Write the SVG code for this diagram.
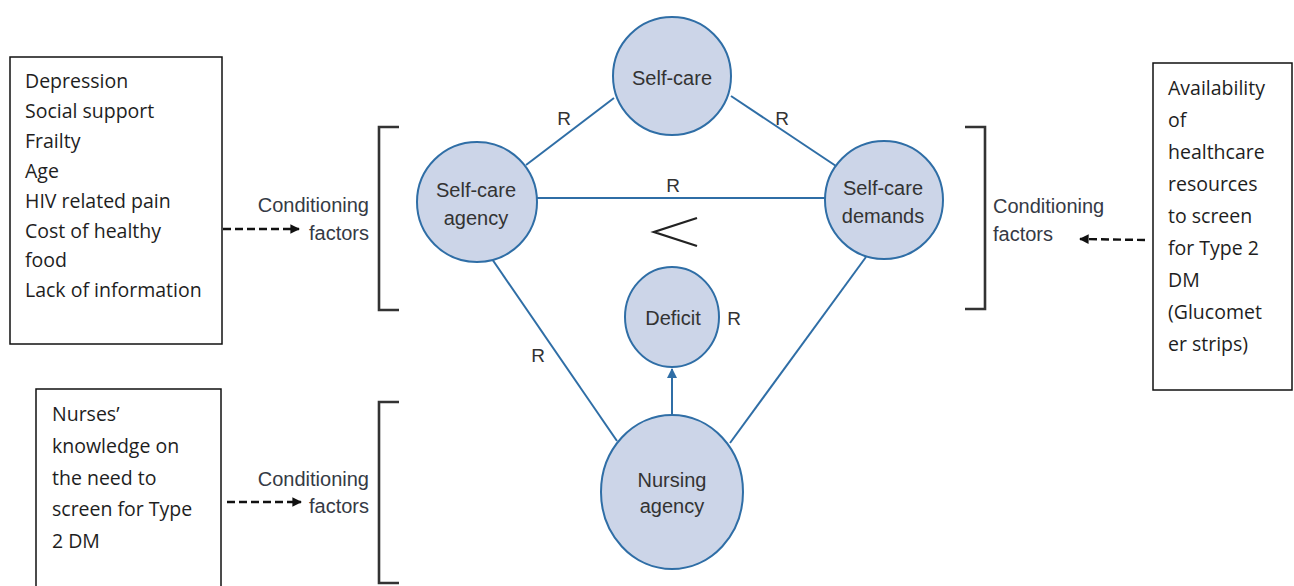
<svg xmlns="http://www.w3.org/2000/svg" width="1294" height="586" viewBox="0 0 1294 586">
  <style>
    .node { fill: #ccd5e8; stroke: #2f6ea6; stroke-width: 2; }
    .link { stroke: #2f6ea6; stroke-width: 2; fill: none; }
    .lbl { font-family: "Liberation Sans", Arial, sans-serif; font-size: 20px; fill: #333; text-anchor: middle; }
    .r { font-family: "Liberation Sans", Arial, sans-serif; font-size: 19px; fill: #333; text-anchor: middle; }
    .cond { font-family: "Liberation Sans", Arial, sans-serif; font-size: 20px; fill: #353a45; }
    .box { fill: #fff; stroke: #111; stroke-width: 1.5; }
    .boxtxt { font-family: "Open Sans", "Noto Sans", sans-serif; font-size: 19.5px; fill: #1e1e1e; }
    .bracket { fill: none; stroke: #333; stroke-width: 2.6; }
    .dash { stroke: #111; stroke-width: 2.4; stroke-dasharray: 8 4; fill: none; }
  </style>
  <defs>
    <marker id="blueHead" viewBox="0 0 10 10" refX="9" refY="5" markerWidth="5" markerHeight="6" orient="auto" markerUnits="strokeWidth">
      <path d="M0,0 L10,5 L0,10 z" fill="#2f6ea6"/>
    </marker>
    <marker id="blackHead" viewBox="0 0 10 10" refX="9" refY="5" markerWidth="4.6" markerHeight="4" orient="auto" markerUnits="strokeWidth">
      <path d="M0,0 L10,5 L0,10 z" fill="#111"/>
    </marker>
  </defs>

  <rect width="1294" height="586" fill="#fff"/>

  <!-- connectors between the theory nodes -->
  <g id="connectors">
    <line class="link" x1="614" y1="98" x2="526" y2="165"/>
    <line class="link" x1="731" y1="96" x2="836" y2="166"/>
    <line class="link" x1="537" y1="198" x2="825" y2="198"/>
    <line class="link" x1="492" y1="259" x2="617" y2="441"/>
    <line class="link" x1="866" y1="257" x2="730" y2="443"/>
    <line class="link" x1="672" y1="415" x2="672" y2="369" marker-end="url(#blueHead)"/>
    <!-- dashed arrows from the factor boxes -->
    <line class="dash" x1="223" y1="229" x2="299" y2="229" marker-end="url(#blackHead)"/>
    <line class="dash" x1="1145" y1="240" x2="1080" y2="239" marker-end="url(#blackHead)"/>
    <line class="dash" x1="227" y1="502" x2="301" y2="502" marker-end="url(#blackHead)"/>
    <!-- relation labels -->
    <text class="r" x="564" y="125">R</text>
    <text class="r" x="782" y="125">R</text>
    <text class="r" x="673" y="192">R</text>
    <text class="r" x="538" y="362">R</text>
    <text class="r" x="734" y="325">R</text>
    <!-- "less than" mark between agency and demands -->
    <polyline points="697,218 654,232 697,246" fill="none" stroke="#222" stroke-width="2.3"/>
  </g>

  <g id="self-care">
    <circle class="node" cx="672" cy="76" r="59"/>
    <text class="lbl" x="672" y="85">Self-care</text>
  </g>
  <g id="self-care-agency">
    <circle class="node" cx="477" cy="202" r="60"/>
    <text class="lbl" x="476" y="197">Self-care</text>
    <text class="lbl" x="476" y="225">agency</text>
  </g>
  <g id="self-care-demands">
    <circle class="node" cx="884" cy="200" r="59"/>
    <text class="lbl" x="883" y="195">Self-care</text>
    <text class="lbl" x="883" y="223">demands</text>
  </g>
  <g id="deficit">
    <ellipse class="node" cx="672" cy="317" rx="47" ry="50"/>
    <text class="lbl" x="673" y="325">Deficit</text>
  </g>
  <g id="nursing-agency">
    <ellipse class="node" cx="672" cy="492" rx="71" ry="77"/>
    <text class="lbl" x="672" y="487">Nursing</text>
    <text class="lbl" x="672" y="513">agency</text>
  </g>

  <!-- brackets with conditioning factor labels -->
  <g id="bracket-left-top">
    <polyline class="bracket" points="399,127 379,127 379,310 399,310"/>
    <text class="cond" x="369" y="212" text-anchor="end">Conditioning</text>
    <text class="cond" x="369" y="240" text-anchor="end">factors</text>
  </g>
  <g id="bracket-right">
    <polyline class="bracket" points="965,127 985,127 985,309 965,309"/>
    <text class="cond" x="993" y="213">Conditioning</text>
    <text class="cond" x="993" y="241">factors</text>
  </g>
  <g id="bracket-left-bottom">
    <polyline class="bracket" points="399,402 379,402 379,583 399,583"/>
    <text class="cond" x="369" y="486" text-anchor="end">Conditioning</text>
    <text class="cond" x="369" y="513" text-anchor="end">factors</text>
  </g>

  <!-- factor boxes -->
  <g id="patient-factors">
    <rect class="box" x="10" y="57" width="212" height="287"/>
    <text class="boxtxt" x="25" y="88">Depression</text>
    <text class="boxtxt" x="25" y="118">Social support</text>
    <text class="boxtxt" x="25" y="148">Frailty</text>
    <text class="boxtxt" x="25" y="178">Age</text>
    <text class="boxtxt" x="25" y="208">HIV related pain</text>
    <text class="boxtxt" x="25" y="238">Cost of healthy</text>
    <text class="boxtxt" x="25" y="267">food</text>
    <text class="boxtxt" x="25" y="297">Lack of information</text>
  </g>
  <g id="resource-factors">
    <rect class="box" x="1153" y="63" width="139" height="327"/>
    <text class="boxtxt" x="1168" y="95">Availability</text>
    <text class="boxtxt" x="1168" y="127">of</text>
    <text class="boxtxt" x="1168" y="159">healthcare</text>
    <text class="boxtxt" x="1168" y="191">resources</text>
    <text class="boxtxt" x="1168" y="223">to screen</text>
    <text class="boxtxt" x="1168" y="255">for Type 2</text>
    <text class="boxtxt" x="1168" y="287">DM</text>
    <text class="boxtxt" x="1168" y="319">(Glucomet</text>
    <text class="boxtxt" x="1168" y="351">er strips)</text>
  </g>
  <g id="nurse-factors">
    <rect class="box" x="36" y="389" width="185" height="210"/>
    <text class="boxtxt" x="52" y="421">Nurses’</text>
    <text class="boxtxt" x="52" y="453">knowledge on</text>
    <text class="boxtxt" x="52" y="485">the need to</text>
    <text class="boxtxt" x="52" y="516">screen for Type</text>
    <text class="boxtxt" x="52" y="548">2 DM</text>
  </g>
</svg>
